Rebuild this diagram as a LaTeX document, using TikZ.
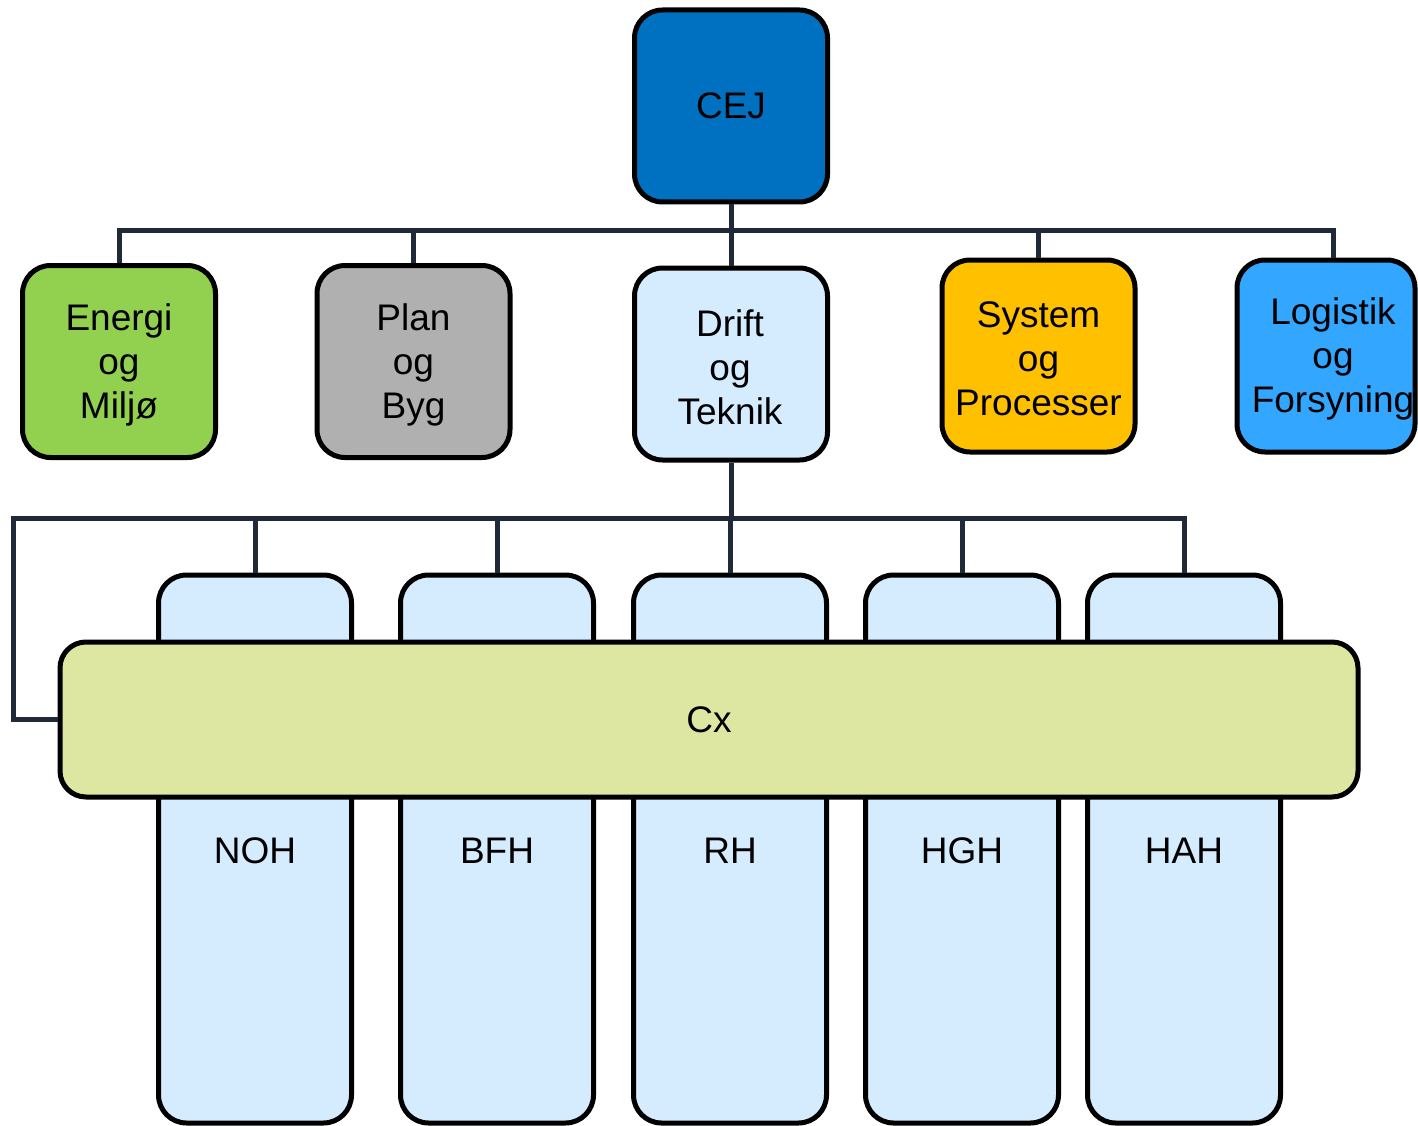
\documentclass[tikz,border=0pt]{standalone}
\usepackage{fontspec}
\setmainfont{Liberation Sans}
\definecolor{cejblue}{HTML}{0070C0}
\definecolor{energigreen}{HTML}{92D050}
\definecolor{plangray}{HTML}{B0B0B0}
\definecolor{lightblue}{HTML}{D5EBFE}
\definecolor{sysorange}{HTML}{FFC000}
\definecolor{logblue}{HTML}{33A6FF}
\definecolor{cxgreen}{HTML}{DDE7A1}
\definecolor{linecol}{HTML}{1F2937}
\begin{document}
\begin{tikzpicture}[x=1pt,y=-1pt,
  box/.style={draw=black,line width=5pt,rounded corners=28pt,inner sep=0pt,
    minimum width=193pt,minimum height=192pt},
  colbox/.style={draw=black,line width=5pt,rounded corners=28pt,inner sep=0pt,
    minimum width=193pt,minimum height=548pt,fill=lightblue},
  lbl/.style={font=\fontsize{37}{44}\selectfont,inner sep=0pt,align=center},
  conn/.style={draw=linecol,line width=5pt}]
\useasboundingbox (0,0) rectangle (1418,1126);
% top level
\node[box,fill=cejblue] (cej) at (731,106) {};
\node[lbl] (cejtxt) at (731,106) {CEJ};
\node[box,fill=energigreen] (energi) at (119,361.5) {};
\node[lbl] (energitxt) at (119,365) {Energi\\og\\Miljø};
\node[box,fill=plangray] (plan) at (413.5,361.5) {};
\node[lbl] (plantxt) at (413.5,365) {Plan\\og\\Byg};
\node[box,fill=lightblue] (drift) at (731,364) {};
\node[lbl] (drifttxt) at (730,367) {Drift\\og\\Teknik};
\node[box,fill=sysorange] (system) at (1038.5,356) {};
\node[lbl] (systemtxt) at (1038.5,359) {System\\og\\Processer};
\node[box,fill=logblue,minimum width=178pt] (logistik) at (1326,356) {};
\node[lbl] (logtxt) at (1333,359) {Logistik\\og\\Forsyning};
% top connectors
\coordinate (bus1) at (731,230);
\draw[conn] (cej.south) -- (drift.north);
\draw[conn] (energi.north) |- (bus1) -| ([xshift=7pt]logistik.north);
\draw[conn] (plan.north) -- (plan.north |- bus1);
\draw[conn] (system.north) -- (system.north |- bus1);
% columns
\node[colbox] (noh) at (255,849) {};
\node[colbox] (bfh) at (497,849) {};
\node[colbox] (rh) at (730,849) {};
\node[colbox] (hgh) at (962,849) {};
\node[colbox] (hah) at (1184,849) {};
\node[lbl] (nohtxt) at (255,851) {NOH};
\node[lbl] (bfhtxt) at (497,851) {BFH};
\node[lbl] (rhtxt) at (730,851) {RH};
\node[lbl] (hghtxt) at (962,851) {HGH};
\node[lbl] (hahtxt) at (1184,851) {HAH};
% Cx
\node[draw=black,line width=5pt,rounded corners=26pt,fill=cxgreen,
  minimum width=1298pt,minimum height=155pt,inner sep=0pt,
  font=\fontsize{37}{44}\selectfont] (cx) at (709,719.5) {Cx};
% lower connectors
\coordinate (bus2) at (731,518);
\coordinate (lcorner) at (13,518);
\draw[conn] (drift.south) -- (bus2);
\draw[conn] (cx.west) -| (lcorner) -| (hah.north);
\draw[conn] (noh.north) -- (noh.north |- bus2);
\draw[conn] (bfh.north) -- (bfh.north |- bus2);
\draw[conn] (rh.north) -- (rh.north |- bus2);
\draw[conn] (hgh.north) -- (hgh.north |- bus2);
\end{tikzpicture}
\end{document}
